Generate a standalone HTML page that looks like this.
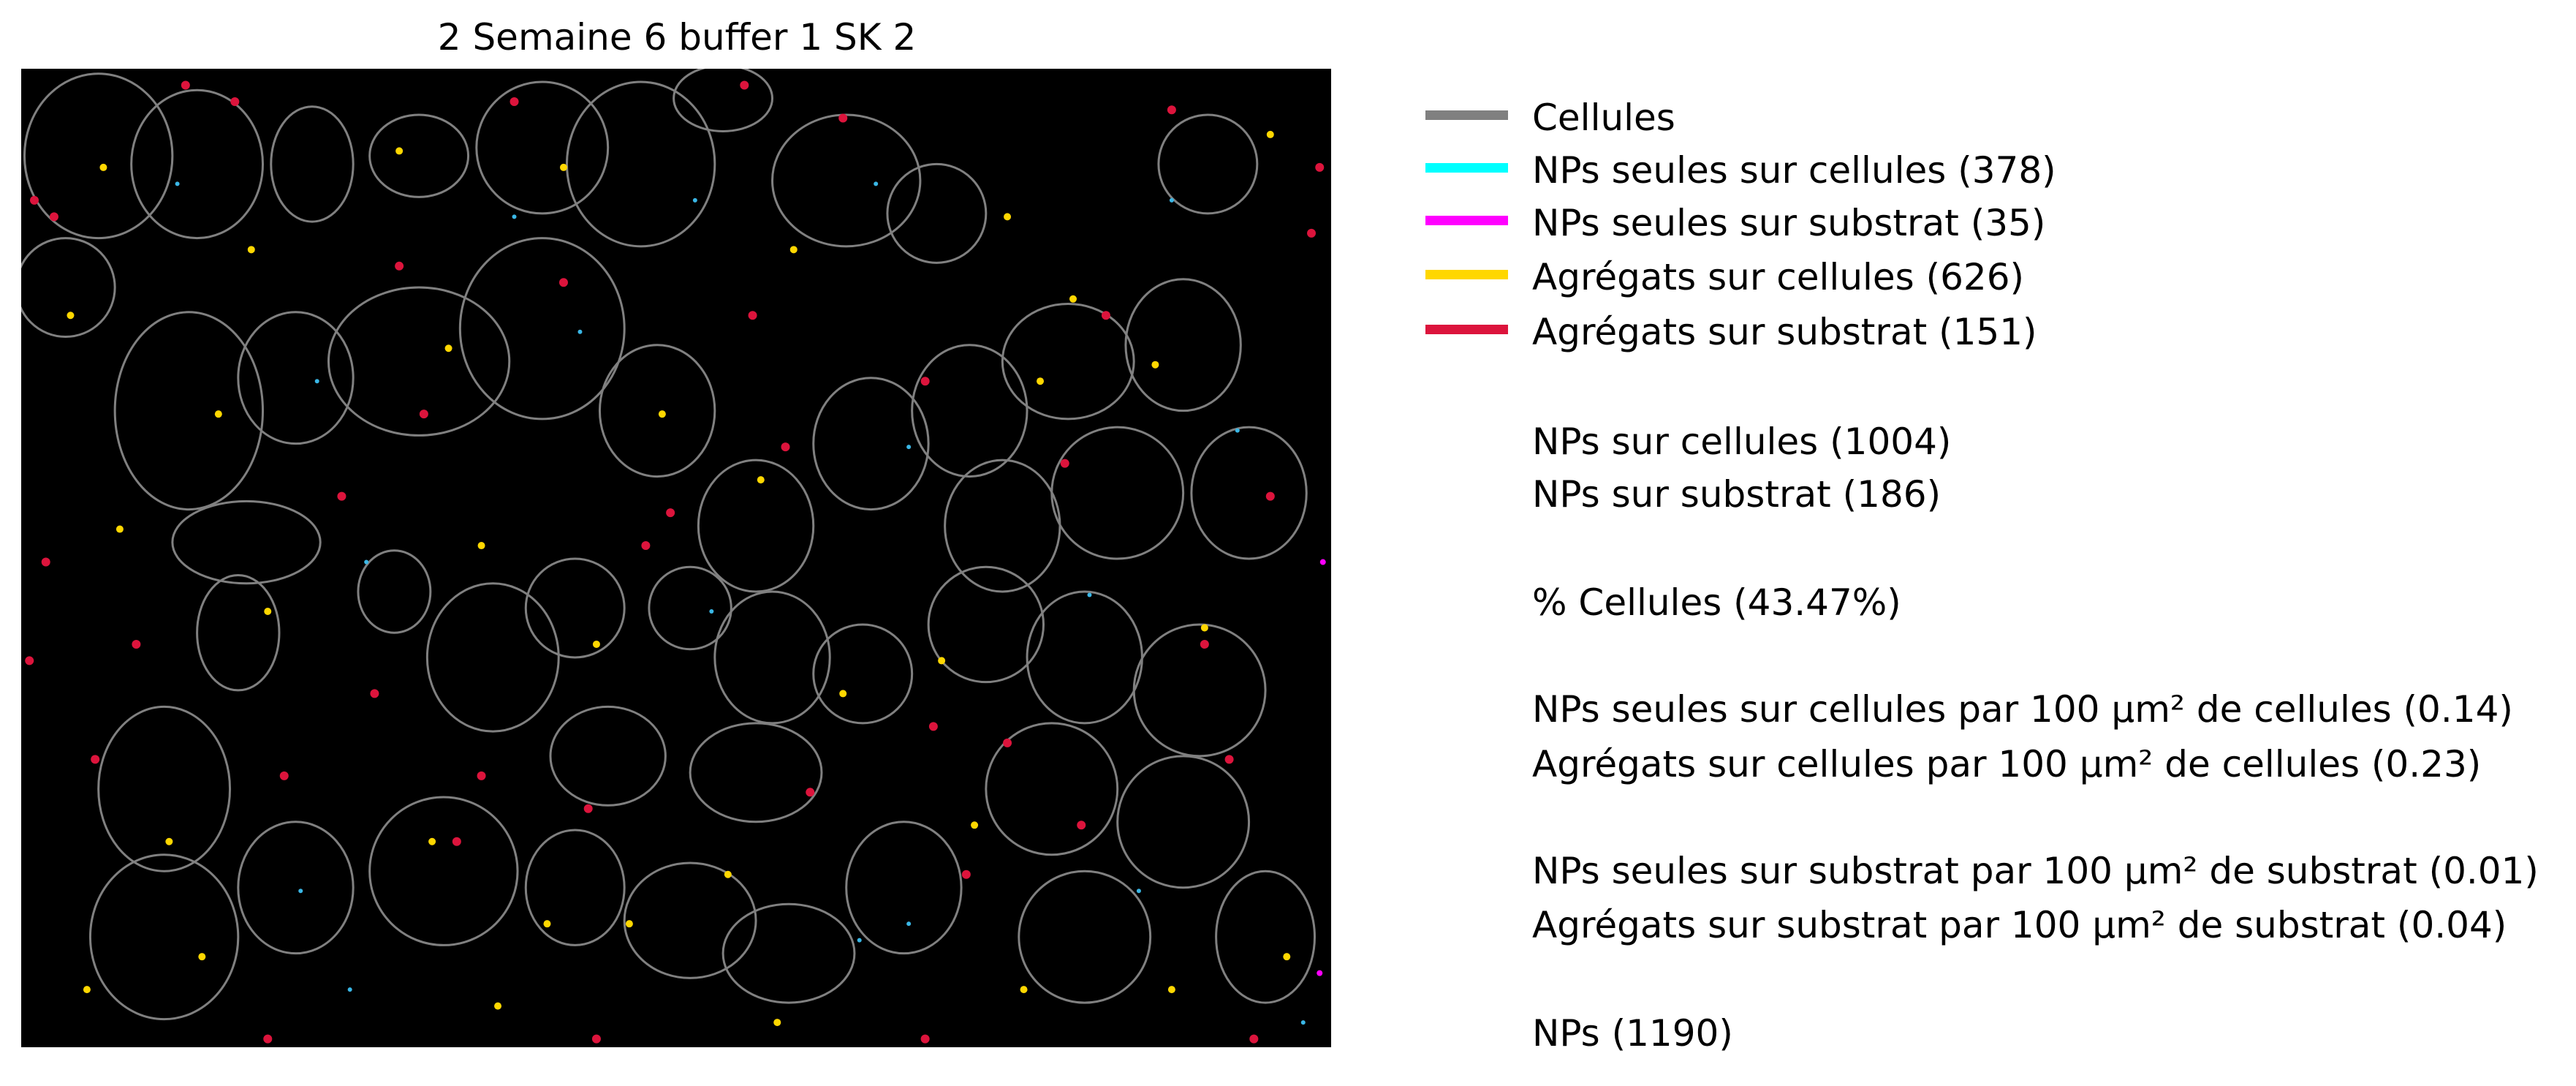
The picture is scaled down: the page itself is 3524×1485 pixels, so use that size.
<!DOCTYPE html>
<html><head><meta charset="utf-8"><style>
html,body{margin:0;padding:0;background:#fff;}
body{width:3524px;height:1485px;overflow:hidden;position:relative;font-family:"DejaVu Sans","Liberation Sans",sans-serif;}
.t{position:absolute;font-size:50px;color:#000;white-space:nowrap;line-height:1;}
.sw{position:absolute;left:1950px;width:113px;height:13px;}
</style></head><body>
<div class="t" style="left:0;width:1852px;text-align:center;top:26px;">2 Semaine 6 buffer 1 SK 2</div>
<svg id="img" style="position:absolute;left:29px;top:94px" width="1792" height="1338"></svg>

<div class="sw" style="top:151px;background:#808080"></div>
<div class="t" style="left:2096px;top:136px">Cellules</div>
<div class="sw" style="top:223px;background:#00ffff"></div>
<div class="t" style="left:2096px;top:208px">NPs seules sur cellules (378)</div>
<div class="sw" style="top:295px;background:#ff00ff"></div>
<div class="t" style="left:2096px;top:280px">NPs seules sur substrat (35)</div>
<div class="sw" style="top:369px;background:#ffd700"></div>
<div class="t" style="left:2096px;top:354px">Agrégats sur cellules (626)</div>
<div class="sw" style="top:444px;background:#dc143c"></div>
<div class="t" style="left:2096px;top:429px">Agrégats sur substrat (151)</div>

<div class="t" style="left:2096px;top:579px">NPs sur cellules (1004)</div>
<div class="t" style="left:2096px;top:651px">NPs sur substrat (186)</div>
<div class="t" style="left:2096px;top:799px">% Cellules (43.47%)</div>
<div class="t" style="left:2096px;top:945px">NPs seules sur cellules par 100 µm² de cellules (0.14)</div>
<div class="t" style="left:2096px;top:1020px">Agrégats sur cellules par 100 µm² de cellules (0.23)</div>
<div class="t" style="left:2096px;top:1166px">NPs seules sur substrat par 100 µm² de substrat (0.01)</div>
<div class="t" style="left:2096px;top:1240px">Agrégats sur substrat par 100 µm² de substrat (0.04)</div>
<div class="t" style="left:2096px;top:1388px">NPs (1190)</div>

<script>
// cell outlines: [cx, cy, rx, ry] in image units (0..797 x 0..595)
const cellCx=[47,107,177,242,317,377,427,502,557,722,27,102,167,242,317,387,447,517,577,637,707,747,667,597,137,132,227,287,337,407,457,512,587,647,717,627,707,757,647,87,87,167,257,337,407,467,537,357,447];
const cellCy=[53,58,58,53,48,58,18,68,88,58,133,208,188,178,158,208,278,228,208,178,168,258,258,278,288,343,318,358,328,328,358,368,338,358,378,438,458,528,528,438,528,498,488,498,518,538,498,418,428];
const cellRx=[45,40,25,30,40,45,30,45,30,30,30,45,35,55,50,35,35,35,35,40,35,35,40,35,45,25,22,40,30,25,35,30,35,35,40,40,40,30,40,40,45,35,45,30,40,40,35,35,40];
const cellRy=[50,45,35,25,40,50,20,40,30,30,30,60,40,45,55,40,40,40,40,35,40,40,40,40,25,35,25,45,30,25,40,30,35,40,40,40,40,40,40,50,50,40,45,35,35,30,40,30,30];
// particles: x, y, type (0 cyan NP cell, 1 magenta NP substrate, 2 gold aggregate cell, 3 crimson aggregate substrate)
const partX=[50,95,140,230,300,330,410,470,520,600,640,700,760,30,120,180,260,340,390,450,540,620,690,740,60,150,210,280,350,420,500,560,650,720,90,170,250,320,430,510,580,680,770,40,110,200,290,370,460,540,610,700,780,20,130,230,330,440,550,660,760,8,160,280,380,480,600,720,790,15,215,395,555,785,70,265,465,635,792,5,195,345,575,735,100,300,500,700,45,245,445,645,790,150,350,550,750];
const partY=[60,70,110,50,90,60,80,110,70,90,140,80,40,150,210,190,170,160,210,250,230,190,180,220,280,330,300,290,350,330,380,360,320,340,470,500,470,520,490,530,460,500,540,560,540,560,570,520,580,520,560,560,580,90,20,120,130,10,190,150,260,80,430,430,290,440,410,350,60,300,380,270,400,100,350,470,230,240,300,360,260,450,490,420,10,20,30,25,420,210,150,460,550,590,590,590,590];
const partT=[2,0,2,2,0,2,0,2,0,2,2,0,2,2,2,0,2,0,2,2,0,2,2,0,2,2,0,2,2,0,2,2,0,2,2,0,2,2,2,0,2,0,2,2,2,0,2,2,2,0,2,2,0,3,3,3,3,3,3,3,3,3,3,3,3,3,3,3,3,3,3,3,3,3,3,3,3,3,1,3,3,3,3,3,3,3,3,3,3,3,3,3,1,3,3,3,3];
const S=1792/797;
function sx(v){return v*S;} function sy(v){return v*S;}
const svg=document.getElementById('img'), NS='http://www.w3.org/2000/svg';
const bg=document.createElementNS(NS,'rect');
bg.setAttribute('width',1792);bg.setAttribute('height',1338);bg.setAttribute('fill','#000');


svg.appendChild(bg);
for(let i=0;i<cellCx.length;i++){
 const e=document.createElementNS(NS,'ellipse');
 e.setAttribute('cx',sx(cellCx[i]));e.setAttribute('cy',sy(cellCy[i]));
 e.setAttribute('rx',sx(cellRx[i]));e.setAttribute('ry',sy(cellRy[i]));
 e.setAttribute('fill','none');e.setAttribute('stroke','#808080');e.setAttribute('stroke-width',3);
 
 
 svg.appendChild(e);
}
const cols=['#3ab7e6','#ff00ff','#ffd700','#dc143c'], rads=[3,4,5,6];
for(let i=0;i<partX.length;i++){
 const c=document.createElementNS(NS,'circle');
 c.setAttribute('cx',sx(partX[i]));c.setAttribute('cy',sy(partY[i]));
 c.setAttribute('r',rads[partT[i]]);c.setAttribute('fill',cols[partT[i]]);
 
 
 svg.appendChild(c);
}
</script>
</body></html>
